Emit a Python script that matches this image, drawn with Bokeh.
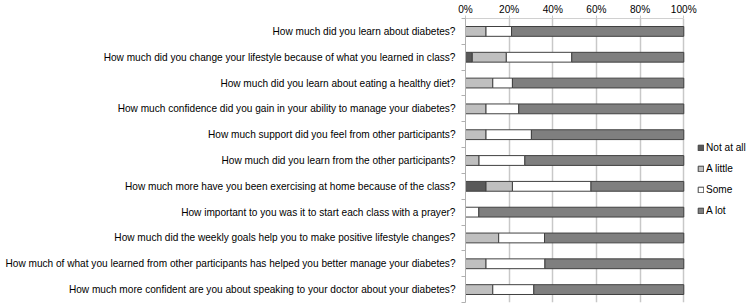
from bokeh.plotting import figure
from bokeh.models import Range1d, FixedTicker, PrintfTickFormatter, ColumnDataSource, Legend
from bokeh.embed import file_html
from bokeh.resources import INLINE

questions = [
    "How much did you learn about diabetes?",
    "How much did you change your lifestyle because of what you learned in class?",
    "How much did you learn about eating a healthy diet?",
    "How much confidence did you gain in your ability to manage your diabetes?",
    "How much support did you feel from other participants?",
    "How much did you learn from the other participants?",
    "How much more have you been exercising at home because of the class?",
    "How important to you was it to start each class with a prayer?",
    "How much did the weekly goals help you to make positive lifestyle changes?",
    "How much of what you learned from other participants has helped you better manage your diabetes?",
    "How much more confident are you about speaking to your doctor about your diabetes?",
]
series = ["Not at all", "A little", "Some", "A lot"]
not_at_all = [0, 3.1, 0, 0, 0, 0, 9.4, 0, 0, 0, 0]
a_little = [9.4, 15.6, 12.5, 9.4, 9.4, 6.2, 12.1, 0, 15.2, 9.4, 12.5]
some = [11.7, 30.0, 9.0, 15.0, 20.8, 21.0, 36.0, 6.1, 21.0, 27.0, 18.8]
a_lot = [100 - a - b - c for a, b, c in zip(not_at_all, a_little, some)]
x_ticks = [0, 20, 40, 60, 80, 100]

rows = list(range(1, len(questions) + 1))
source = ColumnDataSource(dict(y=rows, **{"Not at all": not_at_all, "A little": a_little,
                                         "Some": some, "A lot": a_lot}))

# frame extends to the right edge so the legend (drawn inside the frame) is visible;
# the axis and grid are bounded to 0..100 %
p = figure(width=747, height=304, output_backend="svg", toolbar_location=None,
           x_range=Range1d(0, 129.2), y_range=Range1d(len(questions) + 0.5, 0.5),
           x_axis_location="above", min_border_left=465, min_border_right=0,
           min_border_top=16, min_border_bottom=2)
p.outline_line_color = None

colors = ["#595959", "#bfbfbf", "#ffffff", "#7f7f7f"]
rs = p.hbar_stack(series, y="y", height=0.38, color=colors, line_color="#404040",
                  line_width=1, source=source)

FONT = "Liberation Sans"
FS = "10.1px"

# x axis
p.xaxis.ticker = FixedTicker(ticks=x_ticks)
p.xaxis.bounds = (0, 100)
p.xaxis.formatter = PrintfTickFormatter(format="%d%%")
p.xaxis.major_tick_out = 3
p.xaxis.major_tick_in = 0
p.xaxis.major_tick_line_color = "#c8c8c8"
p.xaxis.minor_tick_out = 0
p.xaxis.axis_line_color = "#d0d0d0"
p.xaxis.major_label_standoff = 1
p.xaxis.major_label_text_font = FONT
p.xaxis.major_label_text_font_size = FS
p.xaxis.major_label_text_color = "#000000"
p.xgrid.grid_line_color = "#c8c8c8"
p.xgrid.grid_line_width = 1.5
p.xgrid.bounds = (0, 100)
p.ygrid.grid_line_color = None

# y axis
p.yaxis.ticker = FixedTicker(ticks=rows, minor_ticks=[r - 0.5 for r in rows] + [len(rows) + 0.5])
p.yaxis.major_label_overrides = {r: q for r, q in zip(rows, questions)}
p.yaxis.major_tick_out = 0
p.yaxis.major_tick_in = 0
p.yaxis.minor_tick_out = 4
p.yaxis.minor_tick_in = 0
p.yaxis.minor_tick_line_color = "#b0b0b0"
p.yaxis.axis_line_color = "#b0b0b0"
p.yaxis.major_label_standoff = 6
p.yaxis.major_label_text_font = FONT
p.yaxis.major_label_text_font_size = FS
p.yaxis.major_label_text_color = "#000000"

legend = Legend(items=[(s, [r]) for s, r in zip(series, rs)], location=(232, 86))
legend.glyph_width = 7
legend.glyph_height = 7
legend.label_standoff = 2
legend.spacing = 10
legend.padding = 0
legend.margin = 0
legend.border_line_color = None
legend.background_fill_alpha = 0
legend.label_text_font = FONT
legend.label_text_font_size = FS
legend.label_text_color = "#000000"
legend.label_height = 11
p.add_layout(legend)

open("out.html", "w").write(file_html(p, INLINE))
